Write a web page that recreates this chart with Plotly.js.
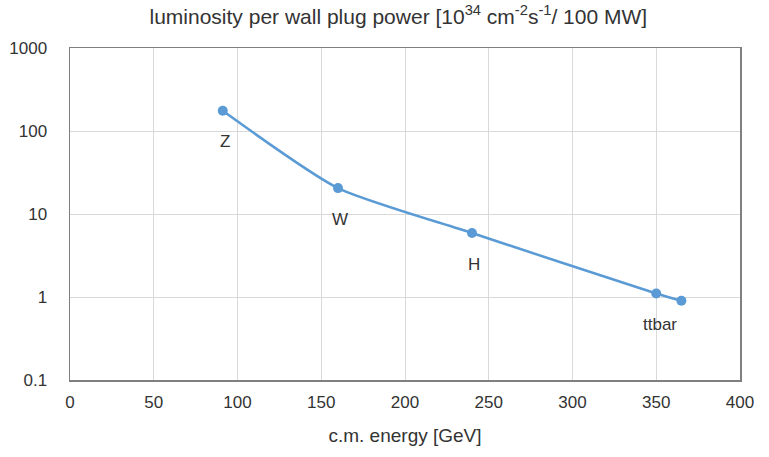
<!DOCTYPE html>
<html>
<head>
<meta charset="utf-8">
<script src="https://cdn.plot.ly/plotly-3.0.1.min.js"></script>
<style>html,body{margin:0;padding:0;background:#fff;}#chart{width:769px;height:457px;}</style>
</head>
<body>
<div id="chart"></div>
<script>
const energies = [91.2, 160, 240, 350, 365];
const lumiPerPower = [175, 20.5, 5.9, 1.1, 0.9];
const pointLabels = ["Z", "W", "H", "ttbar", ""];
const yTickVals = [0.1, 1, 10, 100, 1000];
const yTickText = ["0.1", "1", "10", "100", "1000"];
const xTickVals = [0, 50, 100, 150, 200, 250, 300, 350, 400];

const FONT = "Liberation Sans, Arial, sans-serif";
const TXT = "#333";

const trace = {
  x: energies,
  y: lumiPerPower,
  mode: "lines+markers",
  type: "scatter",
  line: {color: "#5b9bd5", width: 2.5, shape: "spline", smoothing: 0.6},
  marker: {color: "#5b9bd5", size: 10, symbol: "circle"},
  hoverinfo: "x+y",
  showlegend: false
};

const annotations = pointLabels.map((t, i) => ({
  x: energies[i],
  y: Math.log10(lumiPerPower[i]),
  xref: "x", yref: "y",
  text: t,
  showarrow: false,
  xshift: t === "ttbar" ? 4 : 2,
  yshift: -31,
  font: {family: FONT, size: 17, color: TXT}
})).filter(a => a.text !== "");

const layout = {
  width: 769, height: 457,
  margin: {l: 70, r: 29, t: 48, b: 77},
  paper_bgcolor: "#fff", plot_bgcolor: "#fff",
  font: {family: FONT, color: TXT},
  title: {
    text: "luminosity per wall plug power [10<sup>34</sup> cm<sup>-2</sup>s<sup>-1</sup>/ 100 MW]",
    x: 0.518, xanchor: "center", y: 0.964, yanchor: "middle",
    font: {family: FONT, size: 21, color: TXT}
  },
  xaxis: {
    range: [0, 400],
    tickvals: xTickVals,
    showgrid: true, gridcolor: "#d9d9d9", gridwidth: 1,
    zeroline: false,
    showline: true, linecolor: "#7f7f7f", linewidth: 1.5, mirror: true,
    ticks: "", ticklabelstandoff: 6,
    tickfont: {family: FONT, size: 17, color: TXT},
    title: {text: "c.m. energy [GeV]", standoff: 18, font: {family: FONT, size: 19, color: TXT}}
  },
  yaxis: {
    type: "log",
    range: [-1, 3],
    tickvals: yTickVals,
    ticktext: yTickText,
    showgrid: true, gridcolor: "#d9d9d9", gridwidth: 1,
    zeroline: false,
    showline: true, linecolor: "#7f7f7f", linewidth: 1.5, mirror: true,
    ticks: "", ticklabelstandoff: 18,
    tickfont: {family: FONT, size: 17, color: TXT}
  },
  annotations: annotations
};

Plotly.newPlot("chart", [trace], layout, {displayModeBar: false, staticPlot: true});
</script>
</body>
</html>
